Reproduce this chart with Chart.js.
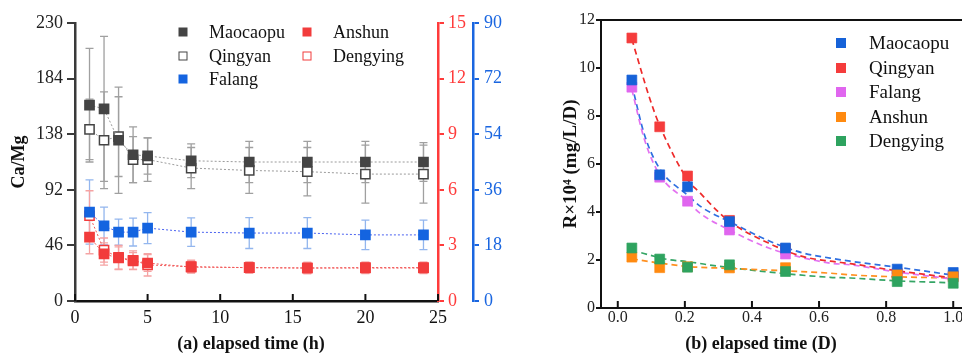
<!DOCTYPE html>
<html>
<head>
<meta charset="utf-8">
<script src="https://cdn.jsdelivr.net/npm/chart.js@4.4.1/dist/chart.umd.min.js"></script>
<style>
  body { margin: 0; width: 962px; height: 354px; overflow: hidden; background: #fff; position: relative;
         font-family: "Liberation Serif", "Times New Roman", serif; color: #111; }
  #wrapA { position: absolute; left: 0; top: 0; width: 515px; height: 354px; }
  #wrapB { position: absolute; left: 515px; top: 0; width: 470px; height: 354px; }
  .lg { position: absolute; white-space: nowrap; line-height: 1; transform: translateY(-52%); }
  .mk { position: absolute; box-sizing: border-box; transform: translate(-50%, -50%); }
  .xt { position: absolute; white-space: nowrap; font-weight: bold; font-size: 18px; line-height: 1;
        transform: translate(-50%, -50%); }
</style>
</head>
<body>
<div id="wrapA"><canvas id="chartA" width="515" height="354"></canvas></div>
<div id="wrapB"><canvas id="chartB" width="470" height="354"></canvas></div>

<!-- legend (a) -->
<div class="mk" style="left:183px;top:32px;width:9px;height:9px;background:#444"></div>
<div class="lg" style="left:209px;top:32px;font-size:18px">Maocaopu</div>
<div class="mk" style="left:183px;top:56px;width:9px;height:9px;border:1.5px solid #444;background:#fff"></div>
<div class="lg" style="left:209px;top:56px;font-size:18px">Qingyan</div>
<div class="mk" style="left:183px;top:79px;width:9px;height:9px;background:#1464e0"></div>
<div class="lg" style="left:209px;top:79px;font-size:18px">Falang</div>
<div class="mk" style="left:307px;top:32px;width:9px;height:9px;background:#f23c3c"></div>
<div class="lg" style="left:333px;top:32px;font-size:18px">Anshun</div>
<div class="mk" style="left:307px;top:56px;width:9px;height:9px;border:1.5px solid #f23c3c;background:#fff"></div>
<div class="lg" style="left:333px;top:56px;font-size:18px">Dengying</div>

<!-- legend (b) -->
<div class="mk" style="left:841px;top:43px;width:10px;height:10px;background:#1662d8"></div>
<div class="lg" style="left:869px;top:43px;font-size:19px">Maocaopu</div>
<div class="mk" style="left:841px;top:68px;width:10px;height:10px;background:#f53c3c"></div>
<div class="lg" style="left:869px;top:68px;font-size:19px">Qingyan</div>
<div class="mk" style="left:841px;top:92px;width:10px;height:10px;background:#e066ef"></div>
<div class="lg" style="left:869px;top:92px;font-size:19px">Falang</div>
<div class="mk" style="left:841px;top:117px;width:10px;height:10px;background:#ff8a10"></div>
<div class="lg" style="left:869px;top:117px;font-size:19px">Anshun</div>
<div class="mk" style="left:841px;top:141px;width:10px;height:10px;background:#2ea35f"></div>
<div class="lg" style="left:869px;top:141px;font-size:19px">Dengying</div>

<div class="xt" style="left:251px;top:343px">(a) elapsed time (h)</div>
<div class="xt" style="left:761px;top:343px">(b) elapsed time (D)</div>

<script>
const serif = "'Liberation Serif', 'Times New Roman', serif";

// ---- panel (a): Ca/Mg over time ----
const timeH = [1, 2, 3, 4, 5, 8, 12, 16, 20, 24];
const maocaopu = [162, 159, 133, 121, 120, 116, 115, 115, 115, 115];
const maocaopuErr = [47, 60, 44, 23, 15, 14, 17, 17, 17, 16];
const qingyan = [142, 133, 136, 117, 117, 110, 108, 107, 105, 105];
const qingyanErr = [25, 40, 33, 19, 18, 17, 19, 20, 24, 24];
const falang = [28.8, 24.3, 22.3, 22.3, 23.6, 22.3, 22, 22, 21.4, 21.4];
const falangErr = [10.4, 6.1, 4.2, 4.5, 5, 4.6, 5, 5, 4.8, 4.8];
const anshun = [3.45, 2.54, 2.32, 2.16, 2.05, 1.83, 1.8, 1.78, 1.78, 1.78];
const anshunErr = [0.9, 0.6, 0.6, 0.45, 0.45, 0.3, 0.3, 0.3, 0.3, 0.3];
const dengying = [4.6, 2.75, 2.35, 2.2, 1.95, 1.85, 1.8, 1.78, 1.8, 1.8];
const dengyingErr = [1.35, 0.65, 0.65, 0.5, 0.6, 0.35, 0.3, 0.3, 0.3, 0.3];

const xTicksA = [0, 5, 10, 15, 20, 25];
const yTicksGray = [0, 46, 92, 138, 184, 230];
const yTicksRed = [0, 3, 6, 9, 12, 15];
const yTicksBlue = [0, 18, 36, 54, 72, 90];

// ---- panel (b): R x 10^4 over time ----
const timeD = [0.042, 0.125, 0.208, 0.333, 0.5, 0.833, 1.0];
const rMaocaopu = [9.5, 5.55, 5.05, 3.6, 2.5, 1.62, 1.48];
const rQingyan = [11.25, 7.55, 5.5, 3.65, 2.45, 1.45, 1.35];
const rFalang = [9.2, 5.45, 4.45, 3.25, 2.25, 1.4, 1.3];
const rAnshun = [2.12, 1.68, 1.72, 1.67, 1.68, 1.38, 1.3];
const rDengying = [2.5, 2.04, 1.7, 1.8, 1.52, 1.1, 1.03];

// fitted curves
const fitMaoX = [0.042, 0.08, 0.125, 0.208, 0.25, 0.333, 0.45, 0.55, 0.633, 0.693, 0.833, 1.0];
const fitMaoY = [9.3, 7.2, 5.8, 4.7, 4.2, 3.6, 2.8, 2.3, 2.08, 1.95, 1.7, 1.37];
const fitQinX = [0.042, 0.096, 0.125, 0.208, 0.245, 0.3, 0.333, 0.45, 0.55, 0.633, 0.693, 0.833, 1.0];
const fitQinY = [11.2, 8.7, 7.6, 5.35, 4.8, 4.0, 3.6, 2.7, 2.15, 1.95, 1.85, 1.55, 1.25];
const fitFalX = [0.042, 0.08, 0.125, 0.208, 0.245, 0.333, 0.45, 0.55, 0.633, 0.693, 0.833, 1.0];
const fitFalY = [9.1, 7.0, 5.55, 4.45, 3.95, 3.25, 2.5, 2.1, 1.87, 1.8, 1.5, 1.2];
const fitAnsX = [0.042, 0.125, 0.215, 0.333, 0.45, 0.633, 0.693, 0.833, 1.0];
const fitAnsY = [2.05, 1.87, 1.72, 1.65, 1.58, 1.45, 1.38, 1.3, 1.25];
const fitDenX = [0.07, 0.146, 0.215, 0.27, 0.45, 0.633, 0.693, 0.833, 1.0];
const fitDenY = [2.3, 2.03, 1.92, 1.8, 1.5, 1.28, 1.25, 1.13, 1.05];

const xTicksB = [0, 0.2, 0.4, 0.6, 0.8, 1.0];
const yTicksB = [0, 2, 4, 6, 8, 10, 12];

function pts(xs, ys) {
  return xs.map((x, i) => ({ x: x, y: ys[i] }));
}
function fixTicks(list) {
  return (scale) => { scale.ticks = list.map((v) => ({ value: v })); };
}

// vertical error bars with caps
const errorBars = {
  id: 'errorBars',
  beforeDatasetsDraw(chart) {
    const ctx = chart.ctx;
    chart.data.datasets.forEach((ds) => {
      if (!ds.errors) return;
      const xs = chart.scales.x;
      const ys = chart.scales[ds.yAxisID];
      ctx.save();
      ctx.strokeStyle = ds.errorColor;
      ctx.lineWidth = 1.3;
      ds.data.forEach((p, j) => {
        const x = xs.getPixelForValue(p.x);
        const top = ys.getPixelForValue(p.y + ds.errors[j]);
        const bot = ys.getPixelForValue(p.y - ds.errors[j]);
        ctx.beginPath();
        ctx.moveTo(x, top); ctx.lineTo(x, bot);
        ctx.moveTo(x - 4, top); ctx.lineTo(x + 4, top);
        ctx.moveTo(x - 4, bot); ctx.lineTo(x + 4, bot);
        ctx.stroke();
      });
      ctx.restore();
    });
  }
};

// x ticks that point into the plot
const innerTicks = {
  id: 'innerTicks',
  afterDraw(chart, args, opts) {
    const ctx = chart.ctx;
    const xs = chart.scales.x;
    const y0 = chart.chartArea.bottom;
    ctx.save();
    ctx.strokeStyle = '#111';
    ctx.lineWidth = 2;
    xs.ticks.forEach((t) => {
      const x = xs.getPixelForValue(t.value);
      ctx.beginPath();
      ctx.moveTo(x, y0);
      ctx.lineTo(x, y0 - 7);
      ctx.stroke();
    });
    if (opts.box) {
      const a = chart.chartArea;
      ctx.beginPath();
      ctx.moveTo(a.left, a.top);
      ctx.lineTo(a.right, a.top);
      ctx.lineTo(a.right, a.bottom);
      ctx.stroke();
    }
    ctx.restore();
  }
};

function lineSet(label, xs, ys, axis, opt) {
  return Object.assign({
    label: label,
    data: pts(xs, ys),
    yAxisID: axis,
    borderWidth: 1,
    borderDash: [2, 2],
    pointStyle: 'rect',
    pointRadius: 6.5,
    pointBorderWidth: 1.5,
    fill: false
  }, opt);
}

new Chart(document.getElementById('chartA'), {
  type: 'line',
  data: {
    datasets: [
      lineSet('Falang', timeH, falang, 'yB', {
        borderColor: '#4a62f0', pointBackgroundColor: '#1464e0', pointBorderColor: '#1464e0',
        errors: falangErr, errorColor: '#93b6ee', order: 0
      }),
      lineSet('Maocaopu', timeH, maocaopu, 'yL', {
        borderColor: '#9a9a9a', pointBackgroundColor: '#444', pointBorderColor: '#444',
        errors: maocaopuErr, errorColor: '#a0a0a0', order: 1
      }),
      lineSet('Qingyan', timeH, qingyan, 'yL', {
        borderColor: '#9a9a9a', pointBackgroundColor: '#fff', pointBorderColor: '#444',
        errors: qingyanErr, errorColor: '#a0a0a0', order: 2
      }),
      lineSet('Anshun', timeH, anshun, 'yR', {
        borderColor: '#f25a5a', pointBackgroundColor: '#f23c3c', pointBorderColor: '#f23c3c',
        errors: anshunErr, errorColor: '#f5a3a3', order: 3
      }),
      lineSet('Dengying', timeH, dengying, 'yR', {
        borderColor: '#f25a5a', pointBackgroundColor: '#fff', pointBorderColor: '#f23c3c',
        errors: dengyingErr, errorColor: '#f5a3a3', order: 4
      })
    ]
  },
  options: {
    responsive: false,
    animation: false,
    events: [],
    layout: { padding: { top: 23, left: 0, right: 0, bottom: 0 } },
    plugins: { legend: { display: false }, tooltip: { enabled: false }, innerTicks: { box: false } },
    scales: {
      x: {
        type: 'linear', min: 0, max: 25,
        afterBuildTicks: fixTicks(xTicksA),
        afterFit: (s) => { s.height = 53; },
        grid: { display: false, drawTicks: false },
        border: { color: '#111', width: 2.5 },
        ticks: { color: '#111', font: { family: serif, size: 18 }, padding: 6, maxRotation: 0 }
      },
      yL: {
        position: 'left', min: 0, max: 230,
        afterBuildTicks: fixTicks(yTicksGray),
        afterFit: (s) => { s.width = 75; },
        grid: { drawOnChartArea: false, tickLength: 8, color: '#3a3a3a', lineWidth: 2 },
        border: { color: '#3a3a3a', width: 2.5 },
        ticks: { color: '#222', font: { family: serif, size: 18 }, padding: 4 },
        title: { display: true, text: 'Ca/Mg', color: '#111', font: { family: serif, size: 18, weight: 'bold' },
                 padding: { top: 9, bottom: 0 } }
      },
      yR: {
        position: 'right', min: 0, max: 15,
        afterBuildTicks: fixTicks(yTicksRed),
        afterFit: (s) => { s.width = 35; },
        grid: { drawOnChartArea: false, tickLength: 6, color: '#ff3b3b', lineWidth: 2 },
        border: { color: '#ff3b3b', width: 2.5 },
        ticks: { color: '#ff3b3b', font: { family: serif, size: 18 }, padding: 4 }
      },
      yB: {
        position: 'right', min: 0, max: 90,
        afterBuildTicks: fixTicks(yTicksBlue),
        afterFit: (s) => { s.width = 42; },
        grid: { drawOnChartArea: false, tickLength: 6, color: '#1a66e0', lineWidth: 2 },
        border: { color: '#1a66e0', width: 2.5 },
        ticks: { color: '#1a66e0', font: { family: serif, size: 18 }, padding: 5 }
      }
    }
  },
  plugins: [errorBars, innerTicks]
});

function fitSet(label, xs, ys, color) {
  return {
    label: label, data: pts(xs, ys), yAxisID: 'y',
    borderColor: color, borderWidth: 1.7, borderDash: [6, 4],
    pointRadius: 0, cubicInterpolationMode: 'monotone', fill: false, order: 10
  };
}
function markSet(label, xs, ys, color, order) {
  return {
    label: label, data: pts(xs, ys), yAxisID: 'y', showLine: false,
    pointStyle: 'rect', pointRadius: 7, pointBorderWidth: 1,
    pointBackgroundColor: color, pointBorderColor: color + 'aa', order: order
  };
}

new Chart(document.getElementById('chartB'), {
  type: 'line',
  data: {
    datasets: [
      fitSet('fit Qingyan', fitQinX, fitQinY, '#ee2a2a'),
      fitSet('fit Falang', fitFalX, fitFalY, '#e372f0'),
      fitSet('fit Maocaopu', fitMaoX, fitMaoY, '#2f6fe0'),
      fitSet('fit Anshun', fitAnsX, fitAnsY, '#ff9020'),
      fitSet('fit Dengying', fitDenX, fitDenY, '#35a565'),
      markSet('Qingyan', timeD, rQingyan, '#f53c3c', 5),
      markSet('Falang', timeD, rFalang, '#e066ef', 4),
      markSet('Maocaopu', timeD, rMaocaopu, '#1662d8', 2),
      markSet('Anshun', timeD, rAnshun, '#ff8a10', 1),
      markSet('Dengying', timeD, rDengying, '#2ea35f', 0)
    ]
  },
  options: {
    responsive: false,
    animation: false,
    events: [],
    layout: { padding: { top: 20, left: 0, right: 15, bottom: 0 } },
    plugins: { legend: { display: false }, tooltip: { enabled: false }, innerTicks: { box: true } },
    scales: {
      x: {
        type: 'linear', min: -0.05, max: 1.05,
        afterBuildTicks: fixTicks(xTicksB),
        afterFit: (s) => { s.height = 46; },
        grid: { display: false, drawTicks: false },
        border: { color: '#111', width: 2 },
        ticks: { color: '#222', font: { family: serif, size: 16 }, padding: 0, maxRotation: 0,
                 callback: (v) => v.toFixed(1) }
      },
      y: {
        position: 'left', min: 0, max: 12,
        afterBuildTicks: fixTicks(yTicksB),
        afterFit: (s) => { s.width = 86; },
        grid: { drawOnChartArea: false, tickLength: 5, color: '#111', lineWidth: 2 },
        border: { color: '#111', width: 2 },
        ticks: { color: '#222', font: { family: serif, size: 16 }, padding: 1 },
        title: { display: true, text: 'R×10⁴ (mg/L/D)', color: '#111',
                 font: { family: serif, size: 19, weight: 'bold' }, padding: { top: 45, bottom: 0 } }
      }
    }
  },
  plugins: [innerTicks]
});
</script>
</body>
</html>
